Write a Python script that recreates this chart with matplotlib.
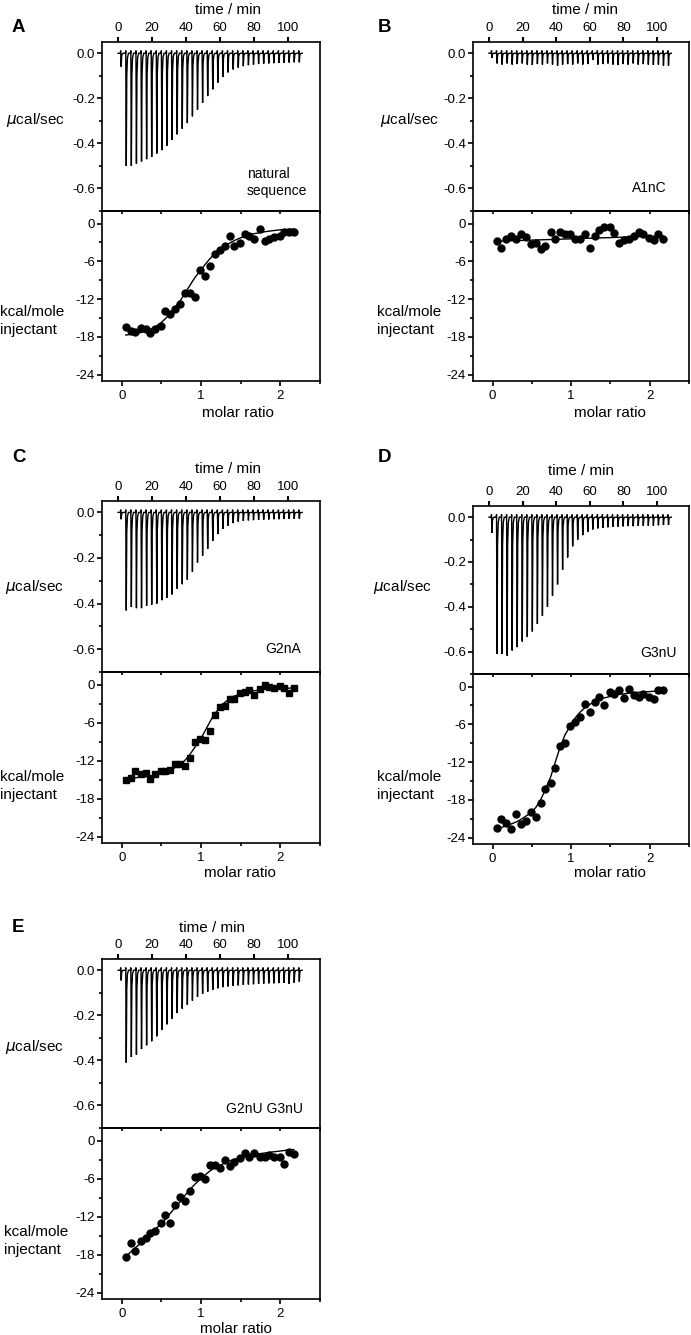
import matplotlib
matplotlib.use("Agg")
import matplotlib.pyplot as plt
from matplotlib.ticker import MultipleLocator, FixedLocator

plt.rcParams['font.family'] = ['Liberation Sans', 'DejaVu Sans']
plt.rcParams['axes.unicode_minus'] = False

W, H = 691, 1335

# ---------------- data ----------------
inj_time = [1.5, 4.5, 7.5, 10.5, 13.5, 16.5, 19.5, 22.5, 25.5, 28.5, 31.5, 34.5,
            37.5, 40.5, 43.5, 46.5, 49.5, 52.5, 55.5, 58.5, 61.5, 64.5, 67.5, 70.5,
            73.5, 76.5, 79.5, 82.5, 85.5, 88.5, 91.5, 94.5, 97.5, 100.5, 103.5, 106.5]

molar_ratio = [0.05, 0.11, 0.17, 0.24, 0.30, 0.36, 0.42, 0.49, 0.55, 0.61, 0.67, 0.74,
               0.80, 0.86, 0.92, 0.99, 1.05, 1.11, 1.17, 1.24, 1.30, 1.36, 1.42, 1.49,
               1.55, 1.61, 1.67, 1.74, 1.80, 1.86, 1.92, 1.99, 2.05, 2.11, 2.17]

peak_A = [-0.06, -0.50, -0.50, -0.49, -0.48, -0.47, -0.46, -0.445, -0.43, -0.41, -0.385, -0.36,
          -0.335, -0.31, -0.28, -0.25, -0.22, -0.19, -0.16, -0.13, -0.105, -0.085, -0.072, -0.064,
          -0.057, -0.053, -0.05, -0.048, -0.046, -0.045, -0.044, -0.043, -0.042, -0.041, -0.04, -0.04]
peak_B = [-0.02, -0.045, -0.05, -0.045, -0.05, -0.048, -0.045, -0.05, -0.052, -0.048, -0.05, -0.045,
          -0.05, -0.055, -0.05, -0.048, -0.05, -0.045, -0.05, -0.048, -0.03, -0.05, -0.048, -0.045,
          -0.05, -0.052, -0.048, -0.05, -0.045, -0.05, -0.048, -0.05, -0.052, -0.05, -0.055, -0.055]
peak_C = [-0.03, -0.43, -0.415, -0.42, -0.42, -0.41, -0.405, -0.40, -0.385, -0.375, -0.36, -0.335,
          -0.315, -0.295, -0.26, -0.22, -0.19, -0.16, -0.125, -0.095, -0.072, -0.058, -0.047, -0.04,
          -0.037, -0.035, -0.034, -0.033, -0.032, -0.031, -0.03, -0.03, -0.029, -0.028, -0.028, -0.027]
peak_D = [-0.07, -0.61, -0.61, -0.618, -0.595, -0.58, -0.555, -0.535, -0.51, -0.476, -0.44, -0.40,
          -0.35, -0.30, -0.235, -0.18, -0.13, -0.10, -0.08, -0.065, -0.055, -0.05, -0.047, -0.045,
          -0.043, -0.042, -0.041, -0.04, -0.04, -0.039, -0.038, -0.038, -0.037, -0.036, -0.035, -0.035]
peak_E = [-0.045, -0.41, -0.385, -0.375, -0.35, -0.333, -0.315, -0.293, -0.265, -0.24, -0.215, -0.19,
          -0.17, -0.153, -0.135, -0.118, -0.105, -0.095, -0.087, -0.08, -0.075, -0.072, -0.069, -0.067,
          -0.065, -0.063, -0.062, -0.06, -0.06, -0.058, -0.058, -0.057, -0.056, -0.06, -0.055, -0.05]

heat_A = [-16.4, -17.1, -17.2, -16.6, -16.7, -17.3, -16.8, -16.3, -13.9, -14.4, -13.5, -12.7,
          -11.1, -11.1, -11.7, -7.4, -8.3, -6.8, -4.8, -4.2, -3.6, -1.9, -3.5, -3.1,
          -1.7, -1.9, -2.4, -0.8, -2.8, -2.4, -2.2, -1.9, -1.4, -1.4, -1.3]
heat_B = [-2.8, -3.8, -2.5, -2.0, -2.5, -1.7, -2.1, -3.2, -3.1, -4.1, -3.6, -1.4,
          -2.4, -1.4, -1.7, -1.6, -2.4, -2.4, -1.7, -3.8, -2.0, -1.0, -0.5, -0.5,
          -1.5, -3.1, -2.6, -2.4, -2.0, -1.3, -1.6, -2.3, -2.6, -1.6, -2.5]
heat_C = [-15.05, -14.8, -13.6, -14.05, -13.9, -14.9, -14.1, -13.6, -13.7, -13.5, -12.6, -12.5,
          -12.9, -11.6, -9.05, -8.5, -8.7, -7.3, -4.8, -3.6, -3.3, -2.3, -2.2, -1.3,
          -1.1, -0.8, -1.7, -0.7, -0.05, -0.4, -0.6, -0.2, -0.5, -1.3, -0.6]
heat_D = [-22.5, -21.1, -21.7, -22.6, -20.3, -21.9, -21.4, -19.9, -20.7, -18.5, -16.3, -15.3,
          -13.0, -9.5, -9.0, -6.25, -5.6, -4.9, -2.8, -4.0, -2.5, -1.7, -2.9, -0.9,
          -1.2, -0.5, -1.85, -0.4, -1.3, -1.7, -1.2, -1.7, -2.0, -0.5, -0.6]
heat_E = [-18.4, -16.1, -17.4, -15.9, -15.3, -14.6, -14.2, -13.0, -11.8, -13.0, -10.1, -8.9,
          -9.5, -8.0, -5.7, -5.6, -6.0, -3.9, -3.8, -4.35, -3.1, -4.0, -3.3, -2.8,
          -1.9, -2.6, -2.0, -2.6, -2.6, -2.3, -2.65, -2.6, -3.7, -1.75, -2.1]

fit_A = [-17.7, -17.6, -17.5, -17.3, -17.1, -16.8, -16.4, -15.8, -15.1, -14.3, -13.3, -12.2,
         -11.0, -9.8, -8.6, -7.5, -6.5, -5.6, -4.8, -4.2, -3.6, -3.1, -2.7, -2.3,
         -2.0, -1.8, -1.6, -1.45, -1.3, -1.2, -1.1, -1.0, -0.95, -0.9, -0.85]
fit_B = [-2.80, -2.78, -2.75, -2.73, -2.70, -2.68, -2.65, -2.63, -2.60, -2.58, -2.55, -2.53,
         -2.50, -2.48, -2.45, -2.43, -2.40, -2.38, -2.35, -2.33, -2.30, -2.28, -2.25, -2.23,
         -2.20, -2.18, -2.15, -2.13, -2.10, -2.08, -2.05, -2.03, -2.00, -1.98, -1.95]
fit_C = [-14.9, -14.8, -14.7, -14.6, -14.5, -14.4, -14.2, -14.0, -13.8, -13.5, -13.1, -12.6,
         -11.9, -11.0, -9.9, -8.7, -7.3, -5.9, -4.6, -3.6, -2.8, -2.2, -1.8, -1.5,
         -1.25, -1.1, -0.95, -0.85, -0.75, -0.7, -0.65, -0.6, -0.55, -0.55, -0.5]
fit_D = [-22.6, -22.4, -22.1, -21.8, -21.5, -21.1, -20.6, -20.0, -19.2, -18.0, -16.4, -14.3,
         -11.9, -9.6, -7.7, -6.2, -5.0, -4.1, -3.4, -2.8, -2.4, -2.0, -1.8, -1.6,
         -1.4, -1.25, -1.15, -1.05, -0.95, -0.9, -0.85, -0.8, -0.75, -0.7, -0.7]
fit_E = [-18.3, -17.6, -16.9, -16.2, -15.5, -14.8, -14.0, -13.2, -12.4, -11.5, -10.6, -9.6,
         -8.6, -7.7, -6.9, -6.1, -5.4, -4.8, -4.3, -3.9, -3.5, -3.2, -2.95, -2.7,
         -2.5, -2.35, -2.2, -2.05, -1.95, -1.85, -1.75, -1.65, -1.55, -1.45, -1.4]

panel_letters = ["A", "B", "C", "D", "E"]
panel_names = ["natural\nsequence", "A1nC", "G2nA", "G3nU", "G2nU G3nU"]
time_ticks = [0, 20, 40, 60, 80, 100]
power_ticks = [0.0, -0.2, -0.4, -0.6]
power_labels = ["0.0", "-0.2", "-0.4", "-0.6"]
heat_ticks = [0, -6, -12, -18, -24]
heat_labels = ["0", "-6", "-12", "-18", "-24"]
ratio_ticks = [0, 1, 2]
ratio_labels = ["0", "1", "2"]

peaks = [peak_A, peak_B, peak_C, peak_D, peak_E]
heats = [heat_A, heat_B, heat_C, heat_D, heat_E]
fits = [fit_A, fit_B, fit_C, fit_D, fit_E]
markers = ["o", "o", "s", "o", "o"]

# ---------------- layout (pixels) ----------------
# left, right, top, boundary, bottom
boxes = [(102, 320, 42, 211, 381),
         (473, 689, 42, 211, 381),
         (102, 320, 501, 672, 843),
         (473, 689, 506, 674, 844),
         (102, 320, 959, 1128, 1299)]
letter_pos = [(12, 27), (378, 27), (12, 458), (378, 458), (12, 927)]
title_pos = [(228, 10), (585, 10), (228, 469), (581, 471), (212, 928)]
ucal_pos = [(6, 120), (380, 120), (5, 587), (373, 587), (5, 1047)]
kcal_pos = [(0, 321), (377, 321), (0, 786), (377, 786), (4, 1241)]
molar_pos = [(238, 413), (610, 413), (240, 873), (610, 873), (236, 1329)]
name_pos = [(76, -0.575, 'left'), (105.5, -0.60, 'right'), (108, -0.60, 'right'),
            (112, -0.605, 'right'), (109, -0.615, 'right')]

fig = plt.figure(figsize=(W / 100, H / 100), dpi=100)


def ptext(x, y, s, **kw):
    fig.text(x / W, 1 - y / H, s, **kw)


def thermogram(times, pk):
    xs, ys = [0.0], [0.0]
    for t, p in zip(times, pk):
        xs += [t - 0.15, t, t + 0.3, t + 0.6, t + 1.0, t + 1.6]
        ys += [0.0, 0.012, p, p * 0.2, p * 0.04, 0.0]
    xs += [108.5]
    ys += [0.0]
    return xs, ys


LW = 1.2
TICKFS = 9.5
LABFS = 11
MAJ = 3.6
MIN = 2.2
TW = 1.2

for i in range(5):
    l, r, t, b, bot = boxes[i]
    axu = fig.add_axes([l / W, 1 - b / H, (r - l) / W, (b - t) / H])
    axl = fig.add_axes([l / W, 1 - bot / H, (r - l) / W, (bot - b) / H])

    # upper thermogram
    xs, ys = thermogram(inj_time, peaks[i])
    axu.plot(xs, ys, color='black', lw=1.0, solid_joinstyle='miter')
    axu.set_xlim(-9.5, 119)
    axu.set_ylim(-0.70, 0.05)
    axu.xaxis.tick_top()
    axu.xaxis.set_major_locator(FixedLocator(time_ticks))
    axu.set_xticklabels([str(v) for v in time_ticks])
    axu.yaxis.set_major_locator(FixedLocator(power_ticks))
    axu.set_yticklabels(power_labels)
    axu.yaxis.set_minor_locator(MultipleLocator(0.1))
    axu.tick_params(axis='x', which='major', direction='out', length=MAJ, width=1.5,
                    labelsize=TICKFS, pad=2, top=True, bottom=False)
    axu.tick_params(axis='y', which='major', direction='out', length=MAJ, width=TW,
                    labelsize=TICKFS, pad=1.5)
    axu.tick_params(axis='y', which='minor', direction='out', length=MIN, width=TW)
    for s in axu.spines.values():
        s.set_linewidth(LW)
    n_x, n_y, n_ha = name_pos[i]
    axu.text(n_x, n_y, panel_names[i], ha=n_ha, va='center', fontsize=10, linespacing=1.3)

    # lower integrated heats
    axl.plot(molar_ratio, fits[i], color='black', lw=1.0)
    axl.plot(molar_ratio, heats[i], linestyle='none', marker=markers[i],
             ms=5 if markers[i] == 'o' else 4.5, color='black')
    axl.set_xlim(-0.25, 2.5)
    axl.set_ylim(-25, 2)
    axl.xaxis.set_major_locator(FixedLocator(ratio_ticks))
    axl.set_xticklabels(ratio_labels)
    axl.xaxis.set_minor_locator(MultipleLocator(0.5))
    axl.yaxis.set_major_locator(FixedLocator(heat_ticks))
    axl.set_yticklabels(heat_labels)
    axl.yaxis.set_minor_locator(MultipleLocator(3))
    axl.tick_params(axis='x', which='both', direction='out', width=TW, labelsize=TICKFS,
                    pad=3, top=False)
    axl.tick_params(axis='x', which='major', length=MAJ)
    axl.tick_params(axis='x', which='minor', length=MIN)
    axl.tick_params(axis='y', which='major', direction='out', length=MAJ, width=TW,
                    labelsize=TICKFS, pad=1.5)
    axl.tick_params(axis='y', which='minor', direction='out', length=MIN, width=TW)
    sec = axl.secondary_xaxis('top')
    sec.xaxis.set_major_locator(FixedLocator(ratio_ticks))
    sec.xaxis.set_minor_locator(MultipleLocator(0.5))
    sec.tick_params(axis='x', which='both', direction='in', length=MIN, width=TW,
                    labeltop=False)
    sec.spines['top'].set_linewidth(LW)
    for s in axl.spines.values():
        s.set_linewidth(LW)

    # texts
    lx, ly = letter_pos[i]
    ptext(lx, ly, panel_letters[i], fontsize=13.5, fontweight='bold', ha='left', va='center')
    tx, ty = title_pos[i]
    ptext(tx, ty, "time / min", fontsize=LABFS, ha='center', va='center')
    ux, uy = ucal_pos[i]
    ptext(ux, uy, "$\\mu$cal/sec", fontsize=LABFS, ha='left', va='center')
    kx, ky = kcal_pos[i]
    ptext(kx, ky, "kcal/mole\ninjectant", fontsize=LABFS, ha='left', va='center',
          linespacing=1.45)
    mx, my = molar_pos[i]
    ptext(mx, my, "molar ratio", fontsize=LABFS, ha='center', va='center')

fig.savefig("out.png", dpi=100)
